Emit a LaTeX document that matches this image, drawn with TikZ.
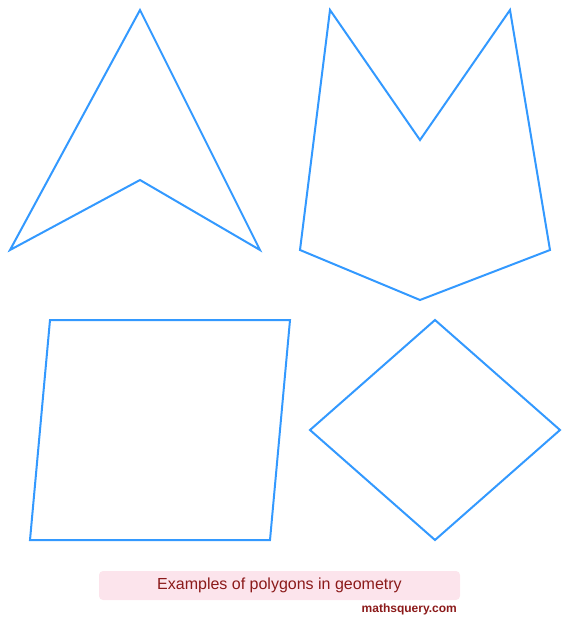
\documentclass[tikz,border=0pt]{standalone}
\usepackage{fontspec}
\setmainfont{Liberation Sans}
\definecolor{polyblue}{HTML}{3399FF}
\definecolor{capfill}{HTML}{FCE4EC}
\definecolor{captext}{HTML}{8B1A1A}
\begin{document}
\begin{tikzpicture}[x=1pt,y=-1pt,
  poly/.style={draw=polyblue,line width=2pt,line join=miter},
  capbox/.style={fill=capfill,rounded corners=4pt},
  captxt/.style={text=captext,font=\fontsize{16}{19}\selectfont,inner sep=0pt},
  sitetxt/.style={text=captext,font=\bfseries\fontsize{12}{14}\selectfont,inner sep=0pt,anchor=east}]
\useasboundingbox (0,0) rectangle (572,631);
% arrow-head polygon
\draw[poly] (140,10) -- (260,250) -- (140,180) -- (10,250) -- cycle;
% M-shaped polygon
\draw[poly] (330,10) -- (420,140) -- (510,10) -- (550,250) -- (420,300) -- (300,250) -- cycle;
% quadrilateral
\draw[poly] (50,320) -- (290,320) -- (270,540) -- (30,540) -- cycle;
% rhombus
\draw[poly] (435,320) -- (560,430) -- (435,540) -- (310,430) -- cycle;
% caption
\fill[capbox] (99,571) rectangle (460,600);
\node[captxt] (cap) at (279.5,585.5) {Examples of polygons in geometry};
\node[sitetxt] (site) at (457,609.5) {mathsquery.com};
\end{tikzpicture}
\end{document}
